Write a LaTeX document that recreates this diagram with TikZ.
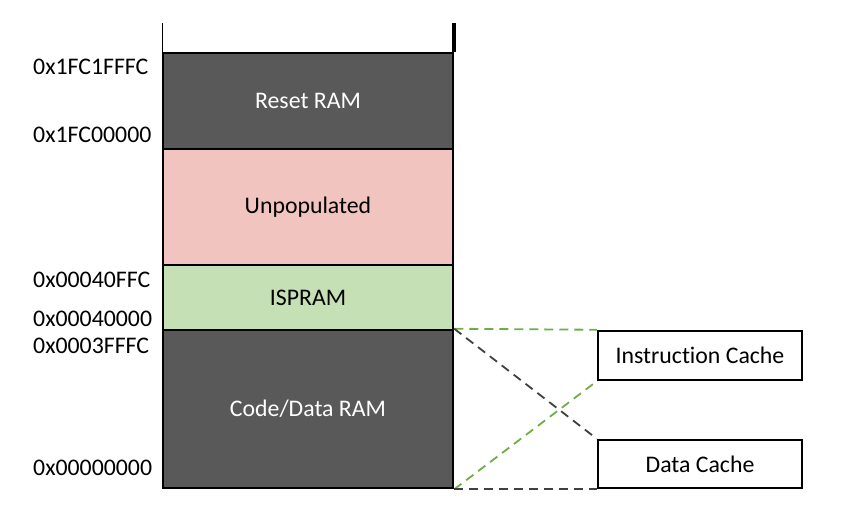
\documentclass[tikz,border=0pt]{standalone}
\usepackage{fontspec}
\setmainfont{Carlito}[Ligatures=NoCommon]
\definecolor{dg}{HTML}{595959}
\definecolor{pk}{HTML}{F2C4C0}
\definecolor{lg}{HTML}{C5E0B4}
\definecolor{gd}{HTML}{70AD47}
\definecolor{kd}{HTML}{404040}
\begin{document}
\begin{tikzpicture}[x=1pt,y=-1pt,
  blk/.style={draw=black, line width=2.5pt, minimum width=290pt, inner sep=0pt, font=\fontsize{23.8}{28}\selectfont},
  addr/.style={anchor=west, inner sep=0pt, font=\fontsize{23.8}{28}\selectfont},
  cache/.style={draw=black, line width=2.5pt, minimum width=204pt, inner sep=0pt, font=\fontsize{23.8}{28}\selectfont},
  gdash/.style={draw=gd, line width=1.8pt, dash pattern=on 9pt off 6pt},
  kdash/.style={draw=kd, line width=1.8pt, dash pattern=on 9pt off 6pt}]
\useasboundingbox (0,0) rectangle (846,515);
\node[blk, fill=dg, text=white, minimum height=96pt] (reset) at (308,101) {Reset RAM};
\node[blk, fill=pk, minimum height=116pt] (unpop) at (308,207) {Unpopulated};
\node[blk, fill=lg, minimum height=65pt] (isp) at (308,297.5) {ISPRAM};
\node[blk, fill=dg, text=white, minimum height=158pt] (code) at (308,409) {Code/Data RAM};
\coordinate (tl) at (163,23);
\coordinate (tr) at (453,23);
\fill[black] ([xshift=-1.5pt]tl) rectangle ([xshift=1.5pt]reset.north west);
\fill[black] ([xshift=-1.5pt]tr) rectangle ([xshift=1.5pt]reset.north east);
\node[addr] (a1) at (33,67) {0x1FC1FFFC};
\node[addr] (a2) at (33,135) {0x1FC00000};
\node[addr] (a3) at (33,280) {0x00040FFC};
\node[addr] (a4) at (33,319) {0x00040000};
\node[addr] (a5) at (33,346) {0x0003FFFC};
\node[addr] (a6) at (33,468) {0x00000000};
\node[cache, minimum height=49pt] (icache) at (700,355.5) {Instruction Cache};
\node[cache, minimum height=48pt] (dcache) at (700,464) {Data Cache};
\draw[gdash] (code.north east) -- (icache.north west);
\draw[gdash] (code.south east) -- (icache.south west);
\draw[kdash] (code.north east) -- (dcache.north west);
\draw[kdash] (code.south east) -- (dcache.south west);
\end{tikzpicture}
\end{document}
